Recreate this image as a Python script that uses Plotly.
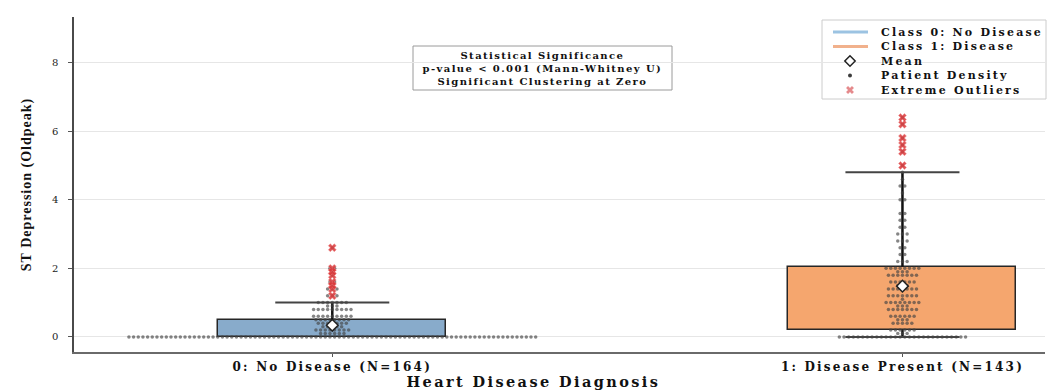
import plotly.graph_objects as go

# ---- data -------------------------------------------------------------
categories = [0, 1]
tick_labels = ["0: No Disease (N=164)", "1: Disease Present (N=143)"]
class_names = ["Class 0: No Disease", "Class 1: Disease"]
x_title = "Heart Disease Diagnosis"
y_title = "ST Depression (Oldpeak)"

# box statistics (Q1, Q3, whisker ends) per class
q1 = [0.0, 0.2]
q3 = [0.5, 2.05]
whisker_low = [0.0, 0.0]
whisker_high = [1.0, 4.8]

# oldpeak values per patient, stored as value -> count
counts_no_disease = {
    0.0: 88, 0.1: 6, 0.2: 8, 0.3: 5, 0.4: 7, 0.5: 8,
    0.6: 9, 0.8: 9, 0.9: 3, 1.0: 7,
    1.2: 3, 1.4: 3, 1.5: 1, 1.6: 2, 1.8: 1, 1.9: 1, 2.0: 2, 2.6: 1,
}
counts_disease = {
    0.0: 28, 0.1: 3, 0.2: 6, 0.4: 5, 0.5: 3, 0.6: 6, 0.8: 7, 0.9: 3,
    1.0: 8, 1.1: 1, 1.2: 7, 1.4: 7, 1.5: 3, 1.6: 6, 1.8: 7, 1.9: 3, 2.0: 8,
    2.2: 3, 2.4: 2, 2.6: 2, 2.8: 3, 3.0: 3, 3.2: 2, 3.4: 2, 3.6: 2,
    4.0: 2, 4.2: 1, 4.4: 2, 4.6: 1, 4.8: 1,
    5.0: 1, 5.4: 1, 5.6: 1, 5.8: 1, 6.2: 1, 6.4: 1,
}
outliers_no_disease = [1.2, 1.4, 1.5, 1.6, 1.8, 1.9, 2.0, 2.6]
outliers_disease = [5.0, 5.4, 5.6, 5.8, 6.2, 6.4]

stats_lines = ["Statistical Significance",
               "p-value < 0.001 (Mann-Whitney U)",
               "Significant Clustering at Zero"]
legend_labels = class_names + ["Mean", "Patient Density", "Extreme Outliers"]

# ---- styling ----------------------------------------------------------
box_fill = ["#88abcb", "#f5a66e"]
legend_line = ["#9cc3e2", "#f1b18c"]
edge = "#262626"
BOX_W = 0.4
CAP_W = 0.2
DOT_STEP = 0.0082   # horizontal spacing of swarm dots (axis units)
SERIF = "DejaVu Serif"

# fixed plot frame in pixels
W, H = 1052, 392
ML, MR, MT, MB = 74, 7, 17, 40
PW, PH = W - ML - MR, H - MT - MB


def px(x):
    return (x - ML) / PW


def py(y):
    return (H - MB - y) / PH


def expand(counts):
    vals = []
    for v, n in counts.items():
        vals.extend([v] * n)
    return vals


def swarm(center, counts):
    """Lay out equal values side by side, centred on the category."""
    xs, ys = [], []
    for v, n in counts.items():
        for i in range(n):
            xs.append(center + (i - (n - 1) / 2) * DOT_STEP)
            ys.append(v)
    return xs, ys


all_counts = [counts_no_disease, counts_disease]
all_outliers = [outliers_no_disease, outliers_disease]
means = [sum(expand(c)) / len(expand(c)) for c in all_counts]

fig = go.Figure()

# boxes (Q1 -> Q3)
fig.add_trace(go.Bar(
    x=categories,
    y=[b - a for a, b in zip(q1, q3)],
    base=q1,
    width=BOX_W,
    marker=dict(color=box_fill, line=dict(color=edge, width=1.5)),
    showlegend=False,
    hoverinfo="skip",
))

# whiskers and caps
for c, lo, a, b, hi in zip(categories, whisker_low, q1, q3, whisker_high):
    fig.add_trace(go.Scatter(x=[c, c], y=[b, hi], mode="lines",
                             line=dict(color="#111111", width=2.5),
                             showlegend=False, hoverinfo="skip"))
    fig.add_trace(go.Scatter(x=[c - CAP_W / 2, c + CAP_W / 2], y=[hi, hi],
                             mode="lines", line=dict(color="#444444", width=2),
                             showlegend=False, hoverinfo="skip"))
    if a > lo:
        fig.add_trace(go.Scatter(x=[c, c], y=[a, lo], mode="lines",
                                 line=dict(color="#111111", width=2.5),
                                 showlegend=False, hoverinfo="skip"))
        fig.add_trace(go.Scatter(x=[c - CAP_W / 2, c + CAP_W / 2], y=[lo, lo],
                                 mode="lines", line=dict(color="#444444", width=2),
                                 showlegend=False, hoverinfo="skip"))

# patient swarm
sx, sy = [], []
for c, counts in zip(categories, all_counts):
    xs, ys = swarm(c, counts)
    sx += xs
    sy += ys
fig.add_trace(go.Scatter(
    x=sx, y=sy, mode="markers", showlegend=False, hoverinfo="skip",
    marker=dict(size=3.5, color="#444444", opacity=0.65, line=dict(width=0)),
))

# extreme outliers
ox, oy = [], []
for c, outs in zip(categories, all_outliers):
    ox += [c] * len(outs)
    oy += outs
fig.add_trace(go.Scatter(
    x=ox, y=oy, mode="markers", showlegend=False,
    marker=dict(symbol="x", size=7, color="#d9383a", opacity=0.85,
                line=dict(width=0.5, color="#f08080")),
))

# means
fig.add_trace(go.Scatter(
    x=categories, y=means, mode="markers", showlegend=False,
    marker=dict(symbol="diamond", size=9, color="white",
                line=dict(color="#222222", width=1.5)),
))

# ---- statistics box -----------------------------------------------------
fig.add_shape(type="rect", xref="paper", yref="paper",
              x0=px(413), x1=px(672), y0=py(90), y1=py(46),
              line=dict(color="#9a9a9a", width=1), fillcolor="white",
              layer="between")
fig.add_annotation(
    text="<br>".join(f"<b>{s}</b>" for s in stats_lines),
    xref="paper", yref="paper", x=px(542), y=py(68),
    xanchor="center", yanchor="middle", showarrow=False,
    font=dict(family=SERIF, size=10, color="#111111"), align="center",
)

# ---- compact legend -------------------------------------------------------
row_y = [32, 46.5, 61, 75.5, 90]
fig.add_shape(type="rect", xref="paper", yref="paper",
              x0=px(822), x1=px(1046), y0=py(99), y1=py(20),
              line=dict(color="#cccccc", width=1), fillcolor="white",
              layer="between")
for i in range(2):
    fig.add_shape(type="line", xref="paper", yref="paper",
                  x0=px(833), x1=px(868), y0=py(row_y[i]), y1=py(row_y[i]),
                  line=dict(color=legend_line[i], width=3))
legend_markers = [
    dict(symbol="diamond", size=8, color="white",
         line=dict(color="#222222", width=1.5)),
    dict(symbol="circle", size=4, color="#3c3c3c", line=dict(width=0)),
    dict(symbol="x", size=7, color="#e58a8c", line=dict(width=0)),
]
for k, mk in enumerate(legend_markers):
    fig.add_trace(go.Scatter(
        x=[px(850)], y=[py(row_y[2 + k])], xaxis="x2", yaxis="y2",
        mode="markers", marker=mk, showlegend=False, hoverinfo="skip",
    ))
for i, lab in enumerate(legend_labels):
    fig.add_annotation(
        text=f"<b>{lab}</b>", xref="paper", yref="paper",
        x=px(879), y=py(row_y[i]), xanchor="left", yanchor="middle",
        align="left", showarrow=False,
        font=dict(family=SERIF, size=11, color="#111111"),
    )

# x-axis title, set slightly left of the plot centre
fig.add_annotation(
    text=f"<b>{x_title}</b>", xref="paper", yref="paper",
    x=px(533), y=py(381), xanchor="center", yanchor="middle",
    showarrow=False, font=dict(family=SERIF, size=14.5, color="#111111"),
)

fig.update_layout(
    width=W, height=H,
    margin=dict(l=ML, r=MR, t=MT, b=MB),
    plot_bgcolor="white", paper_bgcolor="white",
    font=dict(family=SERIF, color="#111111"),
    showlegend=False,
    bargap=0,
    xaxis=dict(
        range=[-0.453, 1.25],
        tickvals=categories, ticktext=tick_labels,
        tickfont=dict(family=SERIF, size=12, color="#111111", weight="bold"),
        ticks="outside", ticklen=3, tickcolor="#555555", ticklabelstandoff=0,
        showline=True, linecolor="#6a6a6a", linewidth=1.5,
        showgrid=False, zeroline=False, automargin=False,
    ),
    yaxis=dict(
        range=[-0.44, 9.33],
        tickvals=[0, 2, 4, 6, 8],
        tickfont=dict(family=SERIF, size=10, color="#222222"),
        ticks="outside", ticklen=4, tickcolor="#555555", ticklabelstandoff=8,
        showline=True, linecolor="#4a4a4a", linewidth=1.5,
        showgrid=True, gridcolor="#e6e6e6", gridwidth=1, zeroline=False,
        automargin=False,
        title=dict(text=f"<b>{y_title}</b>",
                   font=dict(family="Liberation Serif", size=14,
                             color="#111111"),
                   standoff=17),
    ),
    xaxis2=dict(overlaying="x", range=[0, 1], visible=False, anchor="y2",
                fixedrange=True),
    yaxis2=dict(overlaying="y", range=[0, 1], visible=False, anchor="x2",
                fixedrange=True),
)

# widen the serif lettering a little
spacing_js = """
var gd = document.getElementById('{plot_id}');
function sp(sel, v) {
  gd.querySelectorAll(sel).forEach(function (t) { t.style.letterSpacing = v; });
}
sp('.xtick text', '2.2px');
sp('.g-ytitle text', '1px');
var annSpacing = ['1.4px', '2.2px', '2.2px', '2.2px', '2.2px', '2.2px', '2.4px'];
gd.querySelectorAll('.annotation').forEach(function (a) {
  var i = +a.getAttribute('data-index');
  a.querySelectorAll('text').forEach(function (t) {
    t.style.letterSpacing = annSpacing[i] || '0px';
  });
});
"""

fig.write_html("out.html", post_script=spacing_js)
